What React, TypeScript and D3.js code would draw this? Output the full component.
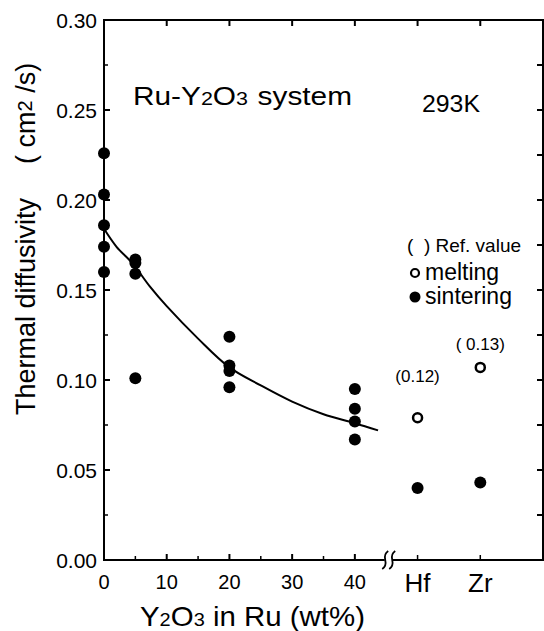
import React from "react";
import * as d3 from "d3";

// ---- data ----
const sinteringX = [0, 0, 0, 0, 0, 5, 5, 5, 5, 20, 20, 20, 20, 40, 40, 40, 40];
const sinteringY = [0.226, 0.203, 0.186, 0.174, 0.16, 0.167, 0.165, 0.159, 0.101, 0.124, 0.108, 0.105, 0.096, 0.095, 0.084, 0.077, 0.067];

const refCategories = ["Hf", "Zr"];
const refPositions = [50, 60];
const refSintering = [0.04, 0.043];
const refMelting = [0.079, 0.107];
const refLabels = ["(0.12)", "( 0.13)"];

const fitX = [0, 2, 4.5, 7.3, 10, 15, 20, 25, 30, 35, 40, 43.7];
const fitY = [0.184, 0.174, 0.165, 0.152, 0.141, 0.123, 0.107, 0.097, 0.088, 0.081, 0.076, 0.072];

const yTicks = [0, 0.05, 0.1, 0.15, 0.2, 0.25, 0.3];
const yMinorTicks = [0.025, 0.075, 0.125, 0.175, 0.225, 0.275];
const xTicks = [0, 10, 20, 30, 40];
const xMinorTicks = [5, 15, 25, 35];
const topTicks = [0, 10, 20, 30, 40, 50, 60];
const breakAt = 45.4;

const FONT = "'Liberation Sans', Arial, Helvetica, sans-serif";

export default function App() {
  const x = d3.scaleLinear().domain([0, 70]).range([104, 543]);
  const y = d3.scaleLinear().domain([0, 0.3]).range([560, 20]);
  const line = d3
    .line<number>()
    .x((d, i) => x(fitX[i]))
    .y((d) => y(d))
    .curve(d3.curveCatmullRom);

  const left = x(0), right = x(70), top = y(0.3), bottom = y(0);
  const rightTicks = d3.range(0, 0.3001, 0.025);
  const bx = x(breakAt);

  return (
    <svg width={544} height={631} style={{ position: "absolute", left: 0, top: 0, background: "#fff" }} fontFamily={FONT}>
      <rect x={0} y={0} width={544} height={631} fill="#fff" />
      {/* frame */}
      <rect x={left} y={top} width={right - left} height={bottom - top} fill="none" stroke="#000" strokeWidth={2} />
      {/* left ticks */}
      {yTicks.map((t) => (
        <line key={"ly" + t} x1={left} x2={left + 6} y1={y(t)} y2={y(t)} stroke="#000" strokeWidth={2} />
      ))}
      {yMinorTicks.map((t) => (
        <line key={"lmy" + t} x1={left} x2={left + 4} y1={y(t)} y2={y(t)} stroke="#000" strokeWidth={1.5} />
      ))}
      {/* right ticks */}
      {rightTicks.map((t) => (
        <line key={"ry" + t} x1={right} x2={right - 6} y1={y(t)} y2={y(t)} stroke="#000" strokeWidth={2} />
      ))}
      {/* top ticks */}
      {topTicks.map((t) => (
        <line key={"tx" + t} x1={x(t)} x2={x(t)} y1={top} y2={top + 6} stroke="#000" strokeWidth={2} />
      ))}
      {/* bottom ticks */}
      {xTicks.map((t) => (
        <line key={"bx" + t} x1={x(t)} x2={x(t)} y1={bottom} y2={bottom - 6} stroke="#000" strokeWidth={2} />
      ))}
      {xMinorTicks.map((t) => (
        <line key={"bmx" + t} x1={x(t)} x2={x(t)} y1={bottom} y2={bottom - 4} stroke="#000" strokeWidth={1.5} />
      ))}
      {refPositions.map((t) => (
        <line key={"bcx" + t} x1={x(t)} x2={x(t)} y1={bottom} y2={bottom - 5} stroke="#000" strokeWidth={1.5} />
      ))}
      {/* axis break */}
      <rect x={bx - 4} y={bottom - 3} width={8} height={6} fill="#fff" />
      {[-3.5, 3.5].map((o) => (
        <path
          key={"brk" + o}
          d={`M${bx + o - 3},${bottom + 9} Q${bx + o + 1.5},${bottom + 6} ${bx + o},${bottom} Q${bx + o - 1.5},${bottom - 6} ${bx + o + 3},${bottom - 9}`}
          fill="none"
          stroke="#000"
          strokeWidth={1.8}
        />
      ))}

      {/* y tick labels */}
      {yTicks.map((t) => (
        <text key={"yl" + t} x={97} y={y(t) + 8} textAnchor="end" fontSize={21}>
          {t.toFixed(2)}
        </text>
      ))}
      {/* x tick labels */}
      {xTicks.map((t) => (
        <text key={"xl" + t} x={x(t)} y={589} textAnchor="middle" fontSize={20}>
          {t}
        </text>
      ))}
      {refCategories.map((c, i) => (
        <text key={"cat" + c} x={x(refPositions[i])} y={592} textAnchor="middle" fontSize={26}>
          {c}
        </text>
      ))}

      {/* axis titles */}
      <text x={140} y={626} fontSize={28} textLength={225} lengthAdjust="spacingAndGlyphs">
        Y<tspan fontSize={19}>2</tspan>O<tspan fontSize={19}>3</tspan> in Ru (wt%)
      </text>
      <text transform="translate(35,415) rotate(-90)" fontSize={27}>
        Thermal diffusivity
        <tspan dx={34}>( cm</tspan>
        <tspan fontSize={20} dy={-3}>2</tspan>
        <tspan dy={3}> /s)</tspan>
      </text>

      {/* annotations */}
      <text x={133} y={105} fontSize={25} textLength={219} lengthAdjust="spacingAndGlyphs">
        Ru-Y<tspan fontSize={18}>2</tspan>O<tspan fontSize={18}>3</tspan>
        <tspan dx={8}>system</tspan>
      </text>
      <text x={422} y={112} fontSize={23} textLength={58} lengthAdjust="spacingAndGlyphs">293K</text>

      {/* legend */}
      <text x={407} y={252} fontSize={19} xmlSpace="preserve">(  ) Ref. value</text>
      <circle cx={415} cy={273} r={4} fill="#fff" stroke="#000" strokeWidth={2.2} />
      <text x={425} y={280} fontSize={23}>melting</text>
      <circle cx={415} cy={297} r={5.5} fill="#000" />
      <text x={425} y={304} fontSize={23}>sintering</text>

      {/* fit curve */}
      <path d={line(fitY) || ""} fill="none" stroke="#000" strokeWidth={2} />

      {/* sintering points */}
      {sinteringY.map((v, i) => (
        <circle key={"s" + i} cx={x(sinteringX[i])} cy={y(v)} r={6} fill="#000" />
      ))}
      {/* reference metals */}
      {refSintering.map((v, i) => (
        <circle key={"rs" + i} cx={x(refPositions[i])} cy={y(v)} r={6} fill="#000" />
      ))}
      {refMelting.map((v, i) => (
        <circle key={"rm" + i} cx={x(refPositions[i])} cy={y(v)} r={4.5} fill="#fff" stroke="#000" strokeWidth={2.5} />
      ))}
      {refLabels.map((l, i) => (
        <text key={"rl" + i} x={x(refPositions[i])} y={y(refMelting[i]) - (i === 0 ? 36 : 17)} textAnchor="middle" fontSize={17}>
          {l}
        </text>
      ))}
    </svg>
  );
}
